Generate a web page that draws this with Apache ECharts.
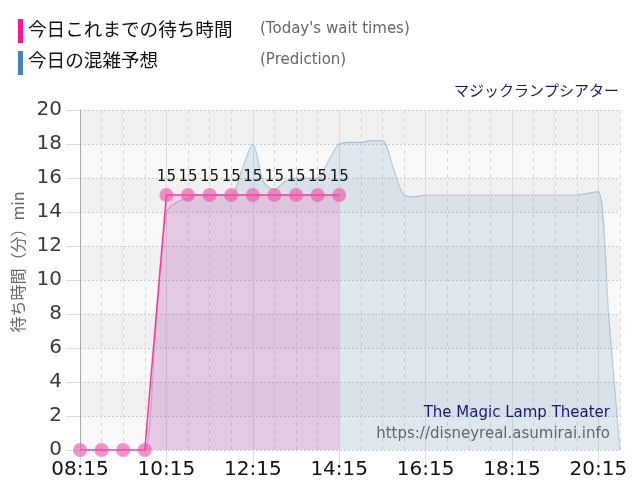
<!DOCTYPE html>
<html><head><meta charset="utf-8">
<script src="https://cdn.jsdelivr.net/npm/echarts@6/dist/echarts.min.js"></script>
<style>html,body{margin:0;padding:0;background:#fff}#c{width:640px;height:500px}</style>
</head><body><div id="c"></div>
<script>
// 15-minute slots from 08:15 to 20:45
var timeSlots = ['08:15','08:30','08:45','09:00','09:15','09:30','09:45','10:00','10:15','10:30','10:45','11:00','11:15','11:30','11:45','12:00','12:15','12:30','12:45','13:00','13:15','13:30','13:45','14:00','14:15','14:30','14:45','15:00','15:15','15:30','15:45','16:00','16:15','16:30','16:45','17:00','17:15','17:30','17:45','18:00','18:15','18:30','18:45','19:00','19:15','19:30','19:45','20:00','20:15','20:30','20:45'];
// Prediction (今日の混雑予想)
var predictionWaits = [0,0,0,0,0,0,0,7,14,14.6,14.8,15,15,15,15,16.5,18,15.8,15.3,15.8,16,16,16,17,18,18.1,18.1,18.2,18.2,16.6,15,14.9,15,15,15,15,15,15,15,15,15,15,15,15,15,15,15,15.1,15.2,7.5,0];
// Today's wait times (今日これまでの待ち時間)
var actualTimes = ['08:15','08:45','09:15','09:45','10:15','10:45','11:15','11:45','12:15','12:45','13:15','13:45','14:15'];
var actualWaits = [0,0,0,0,15,15,15,15,15,15,15,15,15];
var yTicks = {min:0, max:20, interval:2};

var actualData = actualTimes.map(function(t,i){return [t, actualWaits[i]];});
var font = 'DejaVu Sans';
var chart = echarts.init(document.getElementById('c'), null, {renderer:'canvas'});
chart.setOption({
  animation:false,
  backgroundColor:'#fff',
  grid:{left:80, right:20, top:110, bottom:50},
  xAxis:[{
    type:'category', data:timeSlots, boundaryGap:false,
    axisLine:{show:false},
    axisTick:{show:true, interval:function(i){return i%8===0;}, length:14, lineStyle:{color:'#ddd'}},
    axisLabel:{interval:function(i){return i%8===0;}, color:'#111', fontSize:20, fontFamily:font, margin:10},
    splitLine:{show:true, interval:function(i){return i%2===0 && i%8!==0;}, lineStyle:{color:'#d8d8d8', type:[4,4], width:1}}
  },{
    type:'category', data:timeSlots, boundaryGap:false, position:'bottom',
    axisLine:{show:false}, axisTick:{show:false}, axisLabel:{show:false},
    splitLine:{show:true, interval:function(i){return i%8===0;}, lineStyle:{color:'#dddddd', width:1}}
  }],
  yAxis:{
    type:'value', min:yTicks.min, max:yTicks.max, interval:yTicks.interval,
    axisLine:{show:true, lineStyle:{color:'#aaa'}},
    axisTick:{show:true, length:14, lineStyle:{color:'#ddd'}},
    axisLabel:{color:'#3a3a3a', fontSize:20, fontFamily:font, margin:18},
    splitLine:{show:true, lineStyle:{color:'#cccccc', type:[2,2]}},
    splitArea:{show:true, areaStyle:{color:['#f9f9f9','#f1f1f1']}}
  },
  series:[{
    name:'今日の混雑予想', type:'line', data:predictionWaits, smooth:0.3,
    symbol:'none', z:2,
    lineStyle:{color:'rgba(70,130,180,0.35)', width:1.2},
    areaStyle:{color:'rgba(70,130,180,0.2)', origin:'start'}
  },{
    name:'今日これまでの待ち時間', type:'line', data:actualData, z:3,
    symbol:'circle', symbolSize:14, showAllSymbol:true,
    itemStyle:{color:'rgba(238,80,170,0.62)', borderWidth:0},
    lineStyle:{color:'#ff3399', width:1.5},
    areaStyle:{color:'rgba(255,20,147,0.2)', origin:'start'},
    labelLayout:{hideOverlap:false},
    label:{show:true, position:'top', distance:3, color:'#111', fontSize:15, fontFamily:font,
      formatter:function(p){return p.value[1] > 0 ? String(p.value[1]) : '';}}
  }],
  graphic:[
    {type:'rect', left:18, top:19, shape:{width:5, height:24}, style:{fill:'#ff1493'}},
    {type:'text', left:28, top:20, style:{text:'今日これまでの待ち時間', fill:'#111', font:'18.6px "Noto Sans CJK JP"'}},
    {type:'text', left:260, top:22, style:{text:"(Today's wait times)", fill:'#666', font:'15px "DejaVu Sans"'}},
    {type:'rect', left:18, top:51, shape:{width:5, height:24}, style:{fill:'#4682b4'}},
    {type:'text', left:28, top:51, style:{text:'今日の混雑予想', fill:'#111', font:'18.6px "Noto Sans CJK JP"'}},
    {type:'text', left:260, top:53, style:{text:'(Prediction)', fill:'#666', font:'15px "DejaVu Sans"'}},
    {type:'text', right:21, top:83, style:{text:'マジックランプシアター', fill:'#191970', font:'15px "Noto Sans CJK JP"'}},
    {type:'text', x:18, y:262, rotation:Math.PI/2, style:{text:'待ち時間（分）min', fill:'#666', font:'16px "Noto Sans CJK JP"', align:'center', verticalAlign:'middle'}},
    {type:'text', right:30, top:406, z:10, style:{text:'The Magic Lamp Theater', fill:'#191970', font:'15px "DejaVu Sans"'}},
    {type:'text', right:30, top:427, z:10, style:{text:'https://disneyreal.asumirai.info', fill:'#666', font:'15px "DejaVu Sans"'}}
  ]
});
</script></body></html>
